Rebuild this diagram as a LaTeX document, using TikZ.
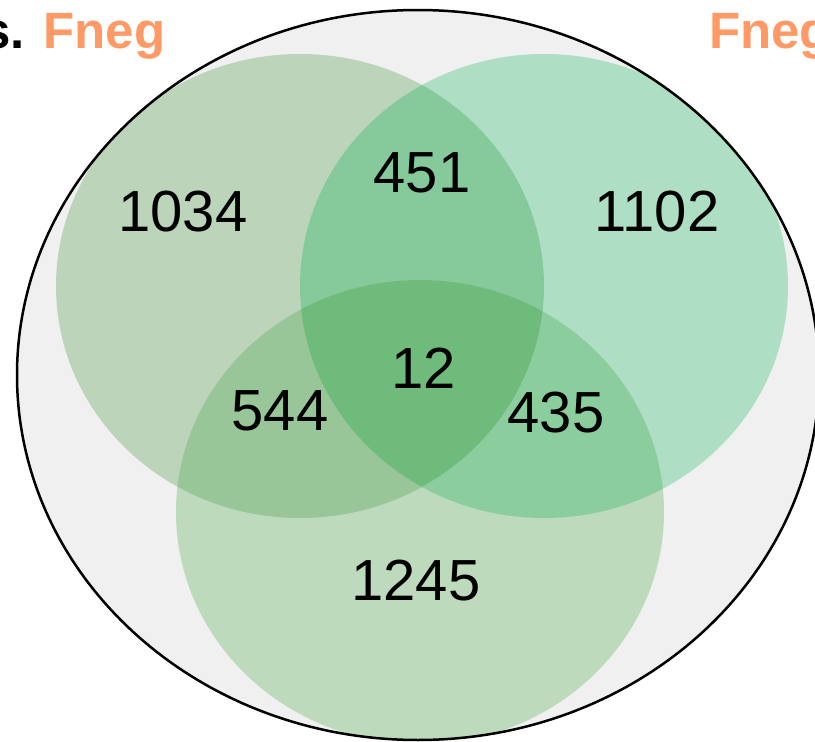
\documentclass[tikz,border=0pt]{standalone}
\usepackage{fontspec}
\setmainfont{Liberation Sans}
\definecolor{outerfill}{HTML}{F0F0F0}
\definecolor{cA}{HTML}{BCD4B9}
\definecolor{cB}{HTML}{AEDFC4}
\definecolor{cC}{HTML}{BDDABD}
\definecolor{cAB}{HTML}{86C99B}
\definecolor{cAC}{HTML}{98C698}
\definecolor{cBC}{HTML}{8CCD9E}
\definecolor{cABC}{HTML}{6FBB7C}
\definecolor{orangelab}{HTML}{FF9A66}
\tikzset{
  num/.style={inner sep=0pt, font=\fontsize{58}{60}\selectfont, text=black},
  toplab/.style={inner sep=0pt, anchor=base west, font=\fontsize{51}{53}\selectfont\bfseries}
}
\begin{document}
\begin{tikzpicture}[x=1pt,y=-1pt]
\useasboundingbox (0,0) rectangle (815,742);
\clip (0,0) rectangle (815,742);
\fill[outerfill] (418,375) ellipse [x radius=401pt, y radius=365pt];
\begin{scope}
  \clip (418,375) ellipse [x radius=401pt, y radius=365pt];
  \fill[cA] (300,286) ellipse [x radius=244pt, y radius=232pt];
  \fill[cB] (544,286) ellipse [x radius=244pt, y radius=232pt];
  \fill[cC] (420,512) ellipse [x radius=244pt, y radius=232pt];
  \begin{scope}
    \clip (300,286) ellipse [x radius=244pt, y radius=232pt];
    \fill[cAB] (544,286) ellipse [x radius=244pt, y radius=232pt];
    \fill[cAC] (420,512) ellipse [x radius=244pt, y radius=232pt];
    \clip (544,286) ellipse [x radius=244pt, y radius=232pt];
    \fill[cABC] (420,512) ellipse [x radius=244pt, y radius=232pt];
  \end{scope}
  \begin{scope}
    \clip (544,286) ellipse [x radius=244pt, y radius=232pt];
    \clip (420,512) ellipse [x radius=244pt, y radius=232pt];
    \fill[cBC] (300,286) ellipse [x radius=244pt, y radius=232pt] [even odd rule] (0,0) rectangle (815,742);
  \end{scope}
\end{scope}
\draw[line width=2.5pt] (418,375) ellipse [x radius=401pt, y radius=365pt];
\node[num] (n1034) at (183,212) {1034};
\node[num] (n1102) at (657,212) {1102};
\node[num] (n451) at (422,173) {451};
\node[num] (n12) at (424,368) {12};
\node[num] (n544) at (280,411) {544};
\node[num] (n435) at (556,413) {435};
\node[num] (n1245) at (416,581) {1245};
\node[toplab] (labL) at (-18,48) {s. \textcolor{orangelab}{Fneg}};
\node[toplab, text=orangelab] (labR) at (709,48) {Fneg};
\end{tikzpicture}
\end{document}
